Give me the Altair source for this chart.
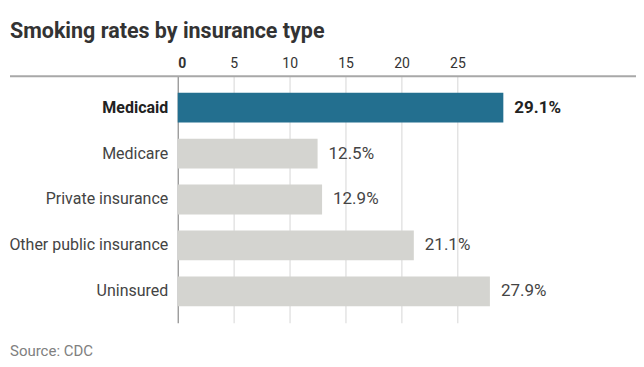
import altair as alt
import pandas as pd

categories = ["Medicaid", "Medicare", "Private insurance", "Other public insurance", "Uninsured"]
rates = [29.1, 12.5, 12.9, 21.1, 27.9]
tick_values = [0, 5, 10, 15, 20, 25]
title_text = "Smoking rates by insurance type"
source_text = "Source: CDC"

df = pd.DataFrame({"insurance": categories, "rate": rates})

FONT = "Roboto"
W, H = 455, 247
XMAX = 40.6

x_scale = alt.Scale(domain=[0, XMAX], nice=False)
y_scale = alt.Scale(domain=categories, paddingInner=0.35, paddingOuter=0.36)

base = alt.Chart(df)

bars = base.mark_bar().encode(
    x=alt.X("rate:Q", scale=x_scale, axis=alt.Axis(
        orient="top", values=tick_values, title=None, ticks=False, domain=False,
        labelFontSize=14, labelColor="#333", labelPadding=6, labelFont=FONT,
        labelFontWeight=alt.expr("datum.value == 0 ? 'bold' : 'normal'"),
        gridColor=alt.expr("datum.value == 0 ? '#8a8a8a' : '#dddddd'"),
        gridWidth=1.2)),
    y=alt.Y("insurance:N", scale=y_scale, sort=categories, axis=alt.Axis(
        title=None, ticks=False, domain=False, labelFontSize=16, labelPadding=10,
        labelFont=FONT,
        labelColor=alt.expr("datum.value == 'Medicaid' ? '#222' : '#444'"),
        labelFontWeight=alt.expr("datum.value == 'Medicaid' ? 'bold' : 'normal'"))),
    color=alt.condition(alt.datum.insurance == "Medicaid", alt.value("#236f8f"), alt.value("#d4d4d0")),
)

labels_bold = base.transform_filter(alt.datum.insurance == "Medicaid").transform_calculate(
    label="format(datum.rate, '.1f') + '%'"
).mark_text(align="left", baseline="middle", dx=11, fontSize=17, fontWeight="bold",
            color="#222", font=FONT).encode(
    x=alt.X("rate:Q", scale=x_scale), y=alt.Y("insurance:N", scale=y_scale, sort=categories),
    text="label:N")

labels_norm = base.transform_filter(alt.datum.insurance != "Medicaid").transform_calculate(
    label="format(datum.rate, '.1f') + '%'"
).mark_text(align="left", baseline="middle", dx=11, fontSize=17,
            color="#444", font=FONT).encode(
    x=alt.X("rate:Q", scale=x_scale), y=alt.Y("insurance:N", scale=y_scale, sort=categories),
    text="label:N")

top_rule = alt.Chart(pd.DataFrame({"a": [0]})).mark_rule(color="#a8a8a8", strokeWidth=2).encode(
    x=alt.value(-168), x2=alt.value(W + 4), y=alt.value(0))

title = alt.Chart(pd.DataFrame({"t": [title_text]})).mark_text(
    align="left", baseline="alphabetic", fontSize=21.5, fontWeight="bold", color="#333", font=FONT
).encode(x=alt.value(-168), y=alt.value(-38), text="t:N")

source = alt.Chart(pd.DataFrame({"t": [source_text]})).mark_text(
    align="left", baseline="middle", fontSize=15, color="#808080", font=FONT
).encode(x=alt.value(-168), y=alt.value(H + 28), text="t:N")

chart = alt.layer(bars, labels_bold, labels_norm, top_rule, title, source).properties(
    width=W, height=H,
    autosize=alt.AutoSizeParams(type="none"),
    padding={"left": 170, "top": 68, "right": 4, "bottom": 36},
    background="white",
).configure_view(stroke=None)

chart.save("out.html", embed_options={"renderer": "svg", "actions": False})
